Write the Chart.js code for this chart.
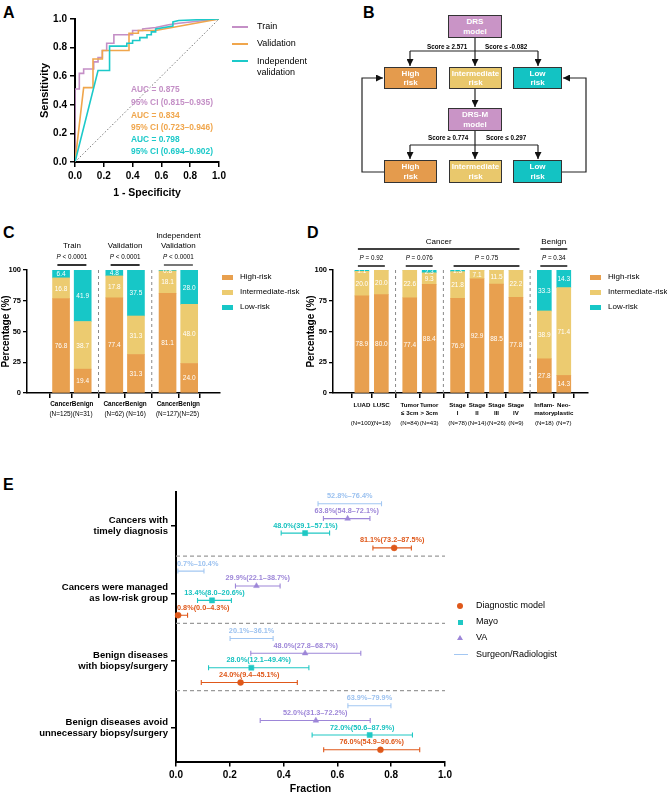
<!DOCTYPE html>
<html><head><meta charset="utf-8">
<script src="https://cdn.jsdelivr.net/npm/chart.js@4.4.0/dist/chart.umd.min.js"></script>
<style>
body{margin:0;width:667px;height:795px;position:relative;background:#fff;font-family:"Liberation Sans",Arial,sans-serif;overflow:hidden;color:#000}
.wrap{position:absolute}
.t{position:absolute;white-space:nowrap;line-height:1}
.letter{position:absolute;font-weight:bold;font-size:16px;line-height:16px}
.box{position:absolute;box-sizing:border-box;border:1px solid #333;display:flex;align-items:center;justify-content:center;text-align:center;color:#fff;font-weight:bold;font-size:8px;line-height:1.15}
</style></head><body>

<div class="letter" style="left:3px;top:5px">A</div>
<div class="letter" style="left:363px;top:5px">B</div>
<div class="letter" style="left:3px;top:225px">C</div>
<div class="letter" style="left:307px;top:225px">D</div>
<div class="letter" style="left:3px;top:477px">E</div>

<div class="wrap" style="left:0;top:0;width:330px;height:200px"><canvas id="cA"></canvas></div>
<div class="wrap" style="left:0;top:200px;width:330px;height:230px"><canvas id="cC"></canvas></div>
<div class="wrap" style="left:305px;top:200px;width:362px;height:230px"><canvas id="cD"></canvas></div>
<div class="wrap" style="left:0;top:420px;width:667px;height:375px"><canvas id="cE"></canvas></div>

<!-- Panel B flowchart -->
<svg style="position:absolute;left:0;top:0" width="667" height="200">
<defs><marker id="ar" markerWidth="7" markerHeight="7" refX="7" refY="3.5" orient="auto" markerUnits="userSpaceOnUse"><path d="M0,0 L7,3.5 L0,7 z" fill="#111"/></marker></defs>
<g stroke="#222" stroke-width="1.2" fill="none">
<path d="M475,38 V66" marker-end="url(#ar)"/>
<path d="M410,51 H538"/>
<path d="M410,51 V66" marker-end="url(#ar)"/>
<path d="M538,51 V66" marker-end="url(#ar)"/>
<path d="M475,89 V107" marker-end="url(#ar)"/>
<path d="M475,131 V159" marker-end="url(#ar)"/>
<path d="M410,145 H538"/>
<path d="M410,145 V159" marker-end="url(#ar)"/>
<path d="M538,145 V159" marker-end="url(#ar)"/>
<path d="M384,172 H362 V78 H383" marker-end="url(#ar)"/>
<path d="M562,172 H586 V78 H563" marker-end="url(#ar)"/>
</g></svg>
<div class="box" style="left:448px;top:15px;width:54px;height:23px;background:#c994c6">DRS<br>model</div>
<div class="box" style="left:384px;top:67px;width:53px;height:22px;background:#e49b4d">High<br>risk</div>
<div class="box" style="left:449px;top:67px;width:53px;height:22px;background:#e9c86c">Intermediate<br>risk</div>
<div class="box" style="left:513px;top:67px;width:49px;height:22px;background:#13c3c3">Low<br>risk</div>
<div class="box" style="left:448px;top:108px;width:54px;height:23px;background:#c994c6">DRS-M<br>model</div>
<div class="box" style="left:384px;top:160px;width:53px;height:23px;background:#e49b4d">High<br>risk</div>
<div class="box" style="left:449px;top:160px;width:53px;height:23px;background:#e9c86c">Intermediate<br>risk</div>
<div class="box" style="left:513px;top:160px;width:49px;height:23px;background:#13c3c3">Low<br>risk</div>
<div class="t" style="left:427px;top:44px;font-size:6.3px;font-weight:bold">Score ≥ 2.571</div>
<div class="t" style="left:485px;top:44px;font-size:6.3px;font-weight:bold">Score ≤ -0.082</div>
<div class="t" style="left:428px;top:135px;font-size:6.3px;font-weight:bold">Score ≥ 0.774</div>
<div class="t" style="left:486px;top:135px;font-size:6.3px;font-weight:bold">Score ≤ 0.297</div>

<!-- Panel A legend and AUC text -->
<div style="position:absolute;left:232px;top:26px;width:16px;height:2px;background:#c48fc6"></div>
<div style="position:absolute;left:232px;top:43px;width:16px;height:2px;background:#f0a64c"></div>
<div style="position:absolute;left:232px;top:60px;width:16px;height:2px;background:#1cc9c9"></div>
<div class="t" style="left:257px;top:22px;font-size:9px">Train</div>
<div class="t" style="left:257px;top:39px;font-size:9px">Validation</div>
<div class="t" style="left:257px;top:56px;font-size:9px;line-height:1.25">Independent<br>validation</div>
<div id="aucBox"></div>

<!-- Panel C/D legends -->
<div id="legC"></div>
<div id="legE"></div>

<script>
Chart.defaults.font.family = '"Liberation Sans", Arial, sans-serif';
Chart.defaults.color = '#000';
Chart.defaults.animation = false;

/* ---------------- Panel A data ---------------- */
const rocTrainFpr = [0,0,0.03,0.03,0.06,0.06,0.13,0.13,0.16,0.16,0.19,0.19,0.22,0.22,0.27,0.27,0.40,0.40,0.47,0.47,0.56,0.65,0.72,1.0];
const rocTrainTpr = [0,0.51,0.51,0.62,0.62,0.65,0.65,0.70,0.70,0.73,0.73,0.78,0.78,0.83,0.83,0.89,0.89,0.92,0.92,0.93,0.94,0.96,0.97,1.0];
const rocValFpr = [0,0.06,0.125,0.125,0.19,0.19,0.375,0.375,0.44,0.44,0.56,1.0];
const rocValTpr = [0,0.52,0.52,0.72,0.72,0.78,0.78,0.90,0.90,0.92,0.92,1.0];
const rocIndFpr = [0,0.16,0.24,0.24,0.36,0.36,0.40,0.40,0.45,0.45,0.50,0.50,0.53,0.53,0.56,0.56,0.68,0.68,0.72,1.0];
const rocIndTpr = [0,0.64,0.64,0.81,0.81,0.83,0.83,0.85,0.85,0.87,0.87,0.89,0.89,0.91,0.91,0.93,0.95,0.98,0.99,1.0];
const aucText = ['AUC = 0.875','95% CI (0.815–0.935)','AUC = 0.834','95% CI (0.723–0.946)','AUC = 0.798','95% CI (0.694–0.902)'];
const rocTicks = [0,0.2,0.4,0.6,0.8,1.0];

/* ---------------- Panel C data ---------------- */
const cGroupTitles = [['Train'],['Validation'],['Independent','Validation']];
const cGroupP = ['P < 0.0001','P < 0.0001','P < 0.0001'];
const cGroupSizes = [2,2,2];
const cCats = ['Cancer','Benign','Cancer','Benign','Cancer','Benign'];
const cN = ['(N=125)','(N=31)','(N=62)','(N=16)','(N=127)','(N=25)'];
const cHigh  = [76.8,19.4,77.4,31.3,81.1,24.0];
const cInter = [16.8,38.7,17.8,31.3,18.1,48.0];
const cLow   = [6.4,41.9,4.8,37.5,0.8,28.0];

/* ---------------- Panel D data ---------------- */
const dGroupSizes = [2,2,4,2];
const dGroupP = ['P = 0.92','P = 0.076','P = 0.75','P = 0.34'];
const dCats = [['LUAD'],['LUSC'],['Tumor','≤ 3cm'],['Tumor','> 3cm'],['Stage','I'],['Stage','II'],['Stage','III'],['Stage','IV'],['Inflam-','matory'],['Neo-','plastic']];
const dN = ['(N=100)','(N=18)','(N=84)','(N=43)','(N=78)','(N=14)','(N=26)','(N=9)','(N=18)','(N=7)'];
const dHigh  = [78.9,80.0,77.4,88.4,76.9,92.9,88.5,77.8,27.8,14.3];
const dInter = [20.0,20.0,22.6,9.3,21.8,7.1,11.5,22.2,38.9,71.4];
const dLow   = [1.1,0,0,2.3,1.3,0,0,0,33.3,14.3];

/* ---------------- Panel E data ---------------- */
const eCategories = [['Cancers with','timely diagnosis'],['Cancers were managed','as low-risk group'],['Benign diseases','with biopsy/surgery'],['Benign diseases avoid','unnecessary biopsy/surgery']];
const eMethods = ['Diagnostic model','Mayo','VA','Surgeon/Radiologist'];
const diagEst = [81.1,0.8,24.0,76.0];
const diagLo  = [73.2,0.0,9.4,54.9];
const diagHi  = [87.5,4.3,45.1,90.6];
const mayoEst = [48.0,13.4,28.0,72.0];
const mayoLo  = [39.1,8.0,12.1,50.6];
const mayoHi  = [57.1,20.6,49.4,87.9];
const vaEst   = [63.8,29.9,48.0,52.0];
const vaLo    = [54.8,22.1,27.8,31.3];
const vaHi    = [72.1,38.7,68.7,72.2];
const surgLo  = [52.8,0.7,20.1,63.9];
const surgHi  = [76.4,10.4,36.1,79.9];
const eTicks = [0,0.2,0.4,0.6,0.8,1.0];

/* ---------------- styles ---------------- */
const COL = {high:'#e8a04f', inter:'#eccb70', low:'#17c7c7',
  train:'#c48fc6', val:'#f0a64c', ind:'#1cc9c9',
  diag:'#df581a', mayo:'#1fc8c4', va:'#9d86d8', surg:'#a3c7f2'};
const FF = '"Liberation Sans", Arial, sans-serif';
function axisGrid(){return {drawOnChartArea:false,drawTicks:true,tickLength:5,color:'#000',lineWidth:1.5};}
const BORDER = {color:'#000',width:2};

/* ---------------- Panel A ---------------- */
const xy = (xs,ys)=>xs.map((x,i)=>({x:x,y:ys[i]}));
new Chart(document.getElementById('cA'),{
  type:'line',
  data:{datasets:[
    {data:[{x:0,y:0},{x:1,y:1}],borderColor:'#777',borderWidth:1,borderDash:[1.5,2],pointRadius:0},
    {data:xy(rocIndFpr,rocIndTpr),borderColor:COL.ind,borderWidth:1.6,pointRadius:0,tension:0},
    {data:xy(rocValFpr,rocValTpr),borderColor:COL.val,borderWidth:1.6,pointRadius:0,tension:0},
    {data:xy(rocTrainFpr,rocTrainTpr),borderColor:COL.train,borderWidth:1.6,pointRadius:0,tension:0}
  ]},
  options:{responsive:true,maintainAspectRatio:false,
    layout:{padding:{left:38,top:19,right:111,bottom:1}},
    plugins:{legend:{display:false},tooltip:{enabled:false}},
    scales:{
      x:{type:'linear',min:0,max:1,afterBuildTicks:s=>{s.ticks=rocTicks.map(v=>({value:v}));},
        ticks:{font:{size:10,weight:'bold'},color:'#000',callback:v=>Number(v).toFixed(1),padding:3,maxRotation:0},
        grid:axisGrid(),border:BORDER,
        title:{display:true,text:'1 - Specificity',font:{size:10.5,weight:'bold'},color:'#000',padding:{top:0,bottom:0}},
        afterFit:s=>{s.height=37;}},
      y:{type:'linear',min:0,max:1,afterBuildTicks:s=>{s.ticks=rocTicks.map(v=>({value:v}));},
        ticks:{font:{size:10,weight:'bold'},color:'#000',callback:v=>Number(v).toFixed(1),padding:3},
        grid:axisGrid(),border:BORDER,
        title:{display:true,text:'Sensitivity',font:{size:11,weight:'bold'},color:'#000',padding:{top:0,bottom:0}},
        afterFit:s=>{s.width=37;}}
    }}
});
(function(){
  const cols=[COL.train,COL.train,COL.val,COL.val,COL.ind,COL.ind];
  const ys=[90,103,116,128,140,152];
  let h='';
  aucText.forEach((t,i)=>{h+=`<div class="t" style="left:131px;top:${ys[i]-5}px;font-size:8.4px;font-weight:bold;color:${cols[i]}">${t}</div>`;});
  document.getElementById('aucBox').innerHTML=h;
})();

/* ---------------- helpers for C / D ---------------- */
function layoutPositions(sizes,gap){const out=[];let p=0;sizes.forEach(n=>{for(let j=0;j<n;j++){out.push(p);p+=1;}p+=gap-1;});return out;}
function groupRanges(sizes){const r=[];let i=0;sizes.forEach(n=>{r.push([i,i+n-1]);i+=n;});return r;}
function drawP(ctx,str,x,y,size){
  const rest=str.slice(1);ctx.save();ctx.textBaseline='middle';ctx.textAlign='left';ctx.fillStyle='#000';
  const fI=`italic ${size}px ${FF}`,fN=`${size}px ${FF}`;
  ctx.font=fI;const wP=ctx.measureText('P').width;ctx.font=fN;const wR=ctx.measureText(rest).width;
  const x0=x-(wP+wR)/2;ctx.font=fI;ctx.fillText('P',x0,y);ctx.font=fN;ctx.fillText(rest,x0+wP,y);ctx.restore();
}
function txt(ctx,s,x,y,font,color,align){ctx.save();ctx.font=font;ctx.fillStyle=color||'#000';ctx.textAlign=align||'center';ctx.textBaseline='middle';ctx.fillText(s,x,y);ctx.restore();}
function hline(ctx,x1,x2,y,w,c){ctx.save();ctx.strokeStyle=c||'#000';ctx.lineWidth=w;ctx.beginPath();ctx.moveTo(x1,y);ctx.lineTo(x2,y);ctx.stroke();ctx.restore();}

const valuePlugin={id:'vals',afterDatasetsDraw(chart){
  const ctx=chart.ctx;ctx.save();ctx.font=`6.5px ${FF}`;ctx.fillStyle='#fff';ctx.textAlign='center';ctx.textBaseline='middle';
  chart.data.datasets.forEach((ds,di)=>{chart.getDatasetMeta(di).data.forEach((el,i)=>{const v=ds.data[i].y;if(!v)return;ctx.fillText(v.toFixed(1),el.x,(el.y+el.base)/2+0.5);});});
  ctx.restore();}};

function stackChart(id,o){
  const pos=layoutPositions(o.groupSizes,o.gap);
  const mk=a=>a.map((v,i)=>({x:pos[i],y:v}));
  const seps=[];const gr=groupRanges(o.groupSizes);
  for(let g=0;g<gr.length-1;g++)seps.push((pos[gr[g][1]]+pos[gr[g+1][0]])/2);
  const decor={id:'decor',beforeDatasetsDraw(chart){
      const ctx=chart.ctx,xs=chart.scales.x,ca=chart.chartArea;
      ctx.save();ctx.strokeStyle='#8a8a8a';ctx.lineWidth=1;ctx.setLineDash([3,3]);
      seps.forEach(v=>{const x=xs.getPixelForValue(v);ctx.beginPath();ctx.moveTo(x,ca.top);ctx.lineTo(x,ca.bottom);ctx.stroke();});
      ctx.restore();},
    afterDraw(chart){o.decor(chart,pos,gr);}};
  return new Chart(document.getElementById(id),{
    type:'bar',
    data:{datasets:[
      {label:'High-risk',data:mk(o.high),backgroundColor:COL.high,barThickness:o.bar},
      {label:'Intermediate-risk',data:mk(o.inter),backgroundColor:COL.inter,barThickness:o.bar},
      {label:'Low-risk',data:mk(o.low),backgroundColor:COL.low,barThickness:o.bar}]},
    options:{responsive:true,maintainAspectRatio:false,
      layout:{padding:o.padding},
      plugins:{legend:{display:false},tooltip:{enabled:false}},
      scales:{
        x:{type:'linear',stacked:true,min:o.xmin,max:o.xmax,
          afterBuildTicks:s=>{s.ticks=pos.map(v=>({value:v}));},
          ticks:{display:false},grid:axisGrid(),border:{color:'#000',width:1.5},
          afterFit:s=>{s.height=o.xh;}},
        y:{type:'linear',stacked:true,min:0,max:100,
          afterBuildTicks:s=>{s.ticks=[0,25,50,75,100].map(v=>({value:v}));},
          ticks:{font:{size:7.5,weight:'bold'},color:'#000',padding:2},
          grid:{drawOnChartArea:false,drawTicks:true,tickLength:4,color:'#000',lineWidth:1.3},border:{color:'#000',width:1.5},
          title:{display:true,text:'Percentage (%)',font:{size:10,weight:'bold'},color:'#000',padding:{top:0,bottom:0}},
          afterFit:s=>{s.width=o.yw;}}
      }},
    plugins:[valuePlugin,decor]
  });
}

/* ---------------- Panel C ---------------- */
stackChart('cC',{groupSizes:cGroupSizes,gap:1.46,high:cHigh,inter:cInter,low:cLow,bar:17,
  xmin:-0.83,xmax:6.6,padding:{left:0,top:70,right:110,bottom:0},xh:37,yw:27,
  decor(chart,pos,gr){
    const ctx=chart.ctx,xs=chart.scales.x;
    gr.forEach((r,g)=>{
      const cx=(xs.getPixelForValue(pos[r[0]])+xs.getPixelForValue(pos[r[1]]))/2;
      const tl=cGroupTitles[g];
      tl.forEach((t,k)=>txt(ctx,t,cx,46-(tl.length-1-k)*10.5,`8px ${FF}`));
      drawP(ctx,cGroupP[g],cx,57,6.3);
      hline(ctx,cx-14.5,cx+14.5,65,1.6,g===2?'#555':'#000');
    });
    pos.forEach((p,i)=>{const x=xs.getPixelForValue(p);
      txt(ctx,cCats[i],x,204,`bold 6.4px ${FF}`);
      txt(ctx,cN[i],x,214,`6.4px ${FF}`);});
  }});

/* ---------------- Panel D ---------------- */
stackChart('cD',{groupSizes:dGroupSizes,gap:1.46,high:dHigh,inter:dInter,low:dLow,bar:14,
  xmin:-0.83,xmax:10.97,padding:{left:0,top:70,right:79,bottom:0},xh:37,yw:28,
  decor(chart,pos,gr){
    const ctx=chart.ctx,xs=chart.scales.x;
    const px=i=>xs.getPixelForValue(pos[i]);
    gr.forEach((r,g)=>{
      const a=px(r[0])-4,b=px(r[1])+3.5;
      drawP(ctx,dGroupP[g],(a+b)/2,58,6.3);
      hline(ctx,a,b,66,1.4);
    });
    const ca=px(0)-4,cb=px(7)+3.5;
    txt(ctx,'Cancer',(ca+cb)/2,42,`8px ${FF}`);hline(ctx,ca,cb,49,1.4);
    const ba=px(8)-4,bb=px(9)+3.5;
    txt(ctx,'Benign',(ba+bb)/2,42,`8px ${FF}`);hline(ctx,ba,bb,49,1.4);
    pos.forEach((p,i)=>{const x=xs.getPixelForValue(p);
      dCats[i].forEach((t,k)=>txt(ctx,t,x,205+k*8.5,`bold 6.1px ${FF}`));
      txt(ctx,dN[i],x,223,`6.1px ${FF}`);});
  }});

/* C/D legends */
(function(){
  let h='';
  const items=[['High-risk',COL.high],['Intermediate-risk',COL.inter],['Low-risk',COL.low]];
  const ys=[277,292,307];
  [[222,240],[590,608]].forEach(([sx,tx])=>{
    items.forEach((it,i)=>{
      h+=`<div style="position:absolute;left:${sx}px;top:${ys[i]-2.5}px;width:11px;height:5px;background:${it[1]}"></div>`;
      h+=`<div class="t" style="left:${tx}px;top:${ys[i]-4.5}px;font-size:8px">${it[0]}</div>`;
    });
  });
  document.getElementById('legC').innerHTML=h;
})();

/* ---------------- Panel E ---------------- */
const eOff={surg:-0.33,va:-0.11,mayo:0.105,diag:0.325};
function ciData(lo,hi,off){const d=[];lo.forEach((l,k)=>{d.push({x:l/100,y:k+off},{x:hi[k]/100,y:k+off},{x:null,y:null});});return d;}
function estData(est,off){return est.map((v,k)=>({x:v/100,y:k+off}));}
function ciSet(lo,hi,off,color){return {data:ciData(lo,hi,off),showLine:true,borderColor:color,borderWidth:1.1,spanGaps:false,
  pointStyle:'line',pointRotation:90,pointRadius:2.5,pointBorderWidth:1.1,pointBorderColor:color,clip:6};}
function ptSet(est,off,color,style,r){return {data:estData(est,off),showLine:false,pointStyle:style,pointRadius:r,
  pointBackgroundColor:color,pointBorderColor:color,pointBorderWidth:0.5,clip:6};}

const eLabelSpec=[
  {lo:surgLo,hi:surgHi,est:null,off:eOff.surg,color:'#9cc2f0'},
  {lo:vaLo,hi:vaHi,est:vaEst,off:eOff.va,color:COL.va},
  {lo:mayoLo,hi:mayoHi,est:mayoEst,off:eOff.mayo,color:'#17c2c0'},
  {lo:diagLo,hi:diagHi,est:diagEst,off:eOff.diag,color:COL.diag}];

const eDecor={id:'edecor',
  beforeDatasetsDraw(chart){
    const ctx=chart.ctx,ys=chart.scales.y,ca=chart.chartArea;
    ctx.save();ctx.strokeStyle='#9a9a9a';ctx.lineWidth=1.2;ctx.setLineDash([4,3]);
    [0,1,2].forEach(k=>{const y=ys.getPixelForValue(k+0.446);ctx.beginPath();ctx.moveTo(ca.left,y);ctx.lineTo(ca.right,y);ctx.stroke();});
    ctx.restore();},
  afterDatasetsDraw(chart){
    const ctx=chart.ctx,xs=chart.scales.x,ys=chart.scales.y,ca=chart.chartArea;
    ctx.save();ctx.font=`bold 7.3px ${FF}`;ctx.textAlign='left';ctx.textBaseline='middle';
    eLabelSpec.forEach(sp=>{
      sp.lo.forEach((l,k)=>{
        const h=sp.hi[k];
        const s=sp.est===null?`${l.toFixed(1)}%–${h.toFixed(1)}%`:`${sp.est[k].toFixed(1)}%(${l.toFixed(1)}–${h.toFixed(1)}%)`;
        const w=ctx.measureText(s).width;
        let cx=xs.getPixelForValue((l+h)/200);
        let x0=cx-w/2; if(x0<ca.left+1)x0=ca.left+1;
        ctx.fillStyle=sp.color;
        ctx.fillText(s,x0,ys.getPixelForValue(k+sp.off)-7.5);
      });
    });
    ctx.restore();}};

new Chart(document.getElementById('cE'),{
  type:'scatter',
  data:{datasets:[
    ciSet(surgLo,surgHi,eOff.surg,COL.surg),
    ciSet(vaLo,vaHi,eOff.va,COL.va),
    ciSet(mayoLo,mayoHi,eOff.mayo,COL.mayo),
    ciSet(diagLo,diagHi,eOff.diag,COL.diag),
    ptSet(vaEst,eOff.va,COL.va,'triangle',3.3),
    ptSet(mayoEst,eOff.mayo,COL.mayo,'rect',3.6),
    ptSet(diagEst,eOff.diag,COL.diag,'circle',3)
  ]},
  options:{responsive:true,maintainAspectRatio:false,
    layout:{padding:{left:0,top:71.7,right:222,bottom:0}},
    plugins:{legend:{display:false},tooltip:{enabled:false}},
    scales:{
      x:{type:'linear',min:0,max:1,afterBuildTicks:s=>{s.ticks=eTicks.map(v=>({value:v}));},
        ticks:{font:{size:10,weight:'bold'},color:'#000',callback:v=>Number(v).toFixed(1),padding:3,maxRotation:0},
        grid:axisGrid(),border:BORDER,
        title:{display:true,text:'Fraction',font:{size:10.5,weight:'bold'},color:'#000',padding:{top:0,bottom:0}},
        afterFit:s=>{s.height=33.4;}},
      y:{type:'linear',min:-0.51,max:3.5,reverse:true,
        afterBuildTicks:s=>{s.ticks=[0,1,2,3].map(v=>({value:v}));},
        ticks:{font:{size:9.5,weight:'bold',lineHeight:1.15},color:'#000',padding:3,callback:v=>eCategories[Math.round(v)]},
        grid:axisGrid(),border:BORDER,
        afterFit:s=>{s.width=176;}}
    }},
  plugins:[eDecor]
});

/* E legend */
(function(){
  let h='';
  h+=`<div style="position:absolute;left:457px;top:603px;width:6px;height:6px;border-radius:50%;background:${COL.diag}"></div>`;
  h+=`<div style="position:absolute;left:457.5px;top:619.5px;width:5px;height:5px;background:${COL.mayo}"></div>`;
  h+=`<div style="position:absolute;left:457px;top:635px;width:0;height:0;border-left:3px solid transparent;border-right:3px solid transparent;border-bottom:5px solid ${COL.va}"></div>`;
  h+=`<div style="position:absolute;left:454px;top:654px;width:14px;height:1.3px;background:${COL.surg}"></div>`;
  const ys=[606,622,638,655];
  eMethods.forEach((m,i)=>{h+=`<div class="t" style="left:476px;top:${ys[i]-5}px;font-size:9px">${m}</div>`;});
  document.getElementById('legE').innerHTML=h;
})();
</script>
</body></html>
